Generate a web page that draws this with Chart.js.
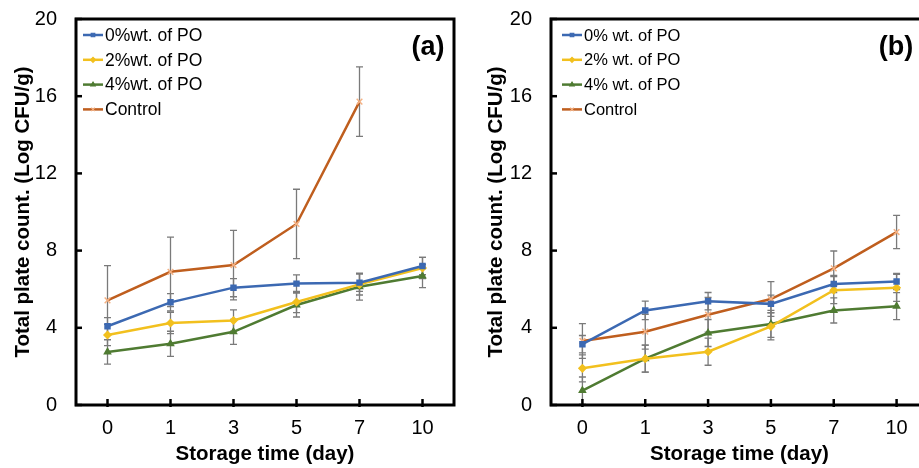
<!DOCTYPE html>
<html><head><meta charset="utf-8">
<script src="https://cdn.jsdelivr.net/npm/chart.js@4.4.1/dist/chart.umd.min.js"></script>
<style>
html,body{margin:0;padding:0;background:#fff;overflow:hidden;}
#wrap{position:relative;width:919px;height:468px;overflow:hidden;}
#ca{position:absolute;left:0;top:0;width:460px;height:468px;}
#cb{position:absolute;left:460px;top:0;width:480px;height:468px;}
</style></head><body>
<div id="wrap"><canvas id="ca" width="460" height="468"></canvas><canvas id="cb" width="480" height="468"></canvas></div>
<script>
const days = ['0', '1', '3', '5', '7', '10'];
const yTicks = [0, 4, 8, 12, 16, 20];
const seriesNames = ['0%wt. of PO', '2%wt. of PO', '4%wt. of PO', 'Control'];
const seriesNamesB = ['0% wt. of PO', '2% wt. of PO', '4% wt. of PO', 'Control'];
const xTitle = 'Storage time (day)';
const yTitle = 'Total plate count. (Log CFU/g)';

// Panel (a)
const a0 = [4.08, 5.32, 6.08, 6.29, 6.34, 7.20];
const a0Err = [0.45, 0.45, 0.47, 0.45, 0.45, 0.45];
const a2 = [3.63, 4.25, 4.38, 5.34, 6.25, 7.10];
const a2Err = [0.55, 0.55, 0.55, 0.55, 0.55, 0.55];
const a4 = [2.75, 3.17, 3.79, 5.18, 6.13, 6.68];
const a4Err = [0.63, 0.65, 0.65, 0.62, 0.70, 0.60];
const aC = [5.42, 6.90, 7.25, 9.38, 15.72, null];
const aCErr = [1.80, 1.80, 1.80, 1.80, 1.80, 0];

// Panel (b)
const b0 = [3.15, 4.90, 5.38, 5.24, 6.27, 6.40];
const b0Err = [0.45, 0.48, 0.45, 0.45, 0.45, 0.42];
const b2 = [1.90, 2.40, 2.76, 4.07, 5.95, 6.07];
const b2Err = [0.70, 0.70, 0.70, 0.70, 0.70, 0.70];
const b4 = [0.75, 2.40, 3.73, 4.20, 4.90, 5.12];
const b4Err = [0.70, 0.70, 0.70, 0.70, 0.65, 0.70];
const bC = [3.32, 3.80, 4.68, 5.49, 7.08, 8.96];
const bCErr = [0.90, 0.90, 0.90, 0.90, 0.90, 0.86];

const FONT = '"Liberation Sans", Arial, sans-serif';
const styles = [
  {color:'#3C69B2', point:'rect', r:3.5, pc:'#3C69B2'},
  {color:'#F2C01E', point:'rectRot', r:3.5, pc:'#F2C01E'},
  {color:'#4F7B32', point:'triangle', r:3.5, pc:'#4F7B32'},
  {color:'#BF5E1E', point:'crossRot', r:4, pc:'#F4B183'}
];

function mkDatasets(names, vals, errs){
  return vals.map((v,i)=>({
    label:names[i], data:v, err:errs[i],
    borderColor:styles[i].color, backgroundColor:styles[i].pc,
    pointBackgroundColor:styles[i].pc, pointBorderColor:styles[i].pc,
    pointStyle:styles[i].point, pointRadius:styles[i].r, pointBorderWidth:1.5,
    borderWidth:2.5, tension:0, fill:false, spanGaps:false
  }));
}

const decor = {
  id:'decor',
  beforeDatasetsDraw(chart){
    const ctx = chart.ctx, ys = chart.scales.y;
    ctx.save(); ctx.strokeStyle = '#7a7a7a'; ctx.lineWidth = 1.3;
    chart.data.datasets.forEach((ds,di)=>{
      const meta = chart.getDatasetMeta(di);
      ds.err.forEach((e,i)=>{
        const v = ds.data[i]; if (v == null || !e) return;
        const p = meta.data[i];
        const t = ys.getPixelForValue(v+e), b = ys.getPixelForValue(v-e);
        ctx.beginPath();
        ctx.moveTo(p.x,t); ctx.lineTo(p.x,b);
        ctx.moveTo(p.x-3.5,t); ctx.lineTo(p.x+3.5,t);
        ctx.moveTo(p.x-3.5,b); ctx.lineTo(p.x+3.5,b);
        ctx.stroke();
      });
    });
    ctx.restore();
  },
  afterDraw(chart){
    const ctx = chart.ctx, a = chart.chartArea, o = chart.options.plugins.decor;
    ctx.save();
    ctx.strokeStyle = '#000'; ctx.lineWidth = 3;
    ctx.strokeRect(a.left, a.top, a.right-a.left, a.bottom-a.top);
    ctx.lineWidth = 2.5;
    const ys = chart.scales.y, xs = chart.scales.x;
    ys.ticks.forEach((t,i)=>{ const py = ys.getPixelForTick(i);
      ctx.beginPath(); ctx.moveTo(a.left-1,py); ctx.lineTo(a.left+6,py); ctx.stroke(); });
    xs.ticks.forEach((t,i)=>{ const px = xs.getPixelForTick(i);
      ctx.beginPath(); ctx.moveTo(px,a.bottom+2); ctx.lineTo(px,a.bottom-6); ctx.stroke(); });
    // legend
    ctx.font = o.legFont + 'px ' + FONT; ctx.textBaseline = 'middle'; ctx.textAlign = 'left';
    chart.data.datasets.forEach((ds,i)=>{
      const y = a.top + 16 + i*24.8;
      const x0 = a.left + o.legX, x1 = x0 + 20;
      ctx.strokeStyle = ds.borderColor; ctx.lineWidth = 2.5;
      ctx.beginPath(); ctx.moveTo(x0,y); ctx.lineTo(x1,y); ctx.stroke();
      if (Chart.helpers && Chart.helpers.drawPoint) {
        ctx.fillStyle = ds.pointBackgroundColor; ctx.strokeStyle = ds.pointBorderColor; ctx.lineWidth = 1.2;
        Chart.helpers.drawPoint(ctx, {pointStyle:ds.pointStyle, radius:2.5, rotation:0, borderWidth:1.2}, (x0+x1)/2, y);
      }
      ctx.fillStyle = '#000';
      ctx.fillText(ds.label, x1+2, y+1);
    });
    ctx.font = 'bold 27px ' + FONT; ctx.textAlign = 'center'; ctx.textBaseline = 'middle'; ctx.fillStyle = '#000';
    ctx.fillText(o.label, o.labelX, 48);
    ctx.restore();
  }
};

function makeChart(id, names, vals, errs, yw, titlePad, padRight, legX, legFont, label, labelX){
  return new Chart(document.getElementById(id), {
    type:'line',
    data:{labels:days, datasets:mkDatasets(names, vals, errs)},
    options:{
      responsive:false, animation:false, devicePixelRatio:1,
      layout:{padding:{top:19, right:padRight, left:0, bottom:0}},
      plugins:{legend:{display:false}, tooltip:{enabled:false},
        decor:{legX:legX, legFont:legFont, label:label, labelX:labelX}},
      scales:{
        x:{type:'category', offset:true,
          grid:{display:false, drawTicks:false}, border:{display:false},
          ticks:{font:{family:FONT, size:20}, color:'#000', padding:11, maxRotation:0},
          title:{display:true, text:xTitle, font:{family:FONT, size:20.5, weight:'bold'}, color:'#000', padding:{top:0,bottom:1}},
          afterFit(s){ s.height = 63; }
        },
        y:{min:0, max:20,
          afterBuildTicks(s){ s.ticks = yTicks.map(v=>({value:v})); },
          grid:{display:false, drawTicks:true, tickLength:19}, border:{display:false},
          ticks:{font:{family:FONT, size:20}, color:'#000', padding:0},
          title:{display:true, text:yTitle, font:{family:FONT, size:20.5, weight:'bold'}, color:'#000', padding:{top:titlePad,bottom:0}},
          afterFit(s){ s.width = yw; }
        }
      }
    },
    plugins:[decor]
  });
}

makeChart('ca', seriesNames, [a0,a2,a4,aC], [a0Err,a2Err,a4Err,aCErr], 76, 11, 6, 7, 17.5, '(a)', 428);
makeChart('cb', seriesNamesB, [b0,b2,b4,bC], [b0Err,b2Err,b4Err,bCErr], 91, 24, 12, 11, 16.5, '(b)', 436);
</script>
</body></html>
